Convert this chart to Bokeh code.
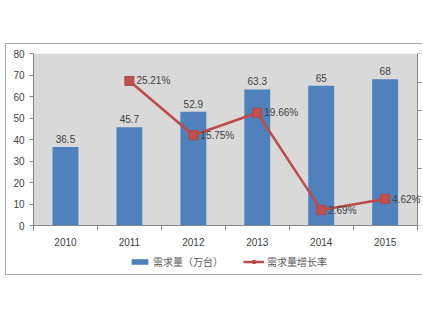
from bokeh.plotting import figure
from bokeh.layouts import column
from bokeh.models import (Range1d, LinearAxis, FixedTicker, Legend, LegendItem,
                          LabelSet, ColumnDataSource)
from bokeh.core.properties import value
from bokeh.embed import file_html
from bokeh.resources import INLINE

years = ["2010", "2011", "2012", "2013", "2014", "2015"]
demand = [36.5, 45.7, 52.9, 63.3, 65, 68]
rate_years = ["2011", "2012", "2013", "2014", "2015"]
rate = [25.21, 15.75, 19.66, 2.69, 4.62]
left_ticks = [0, 10, 20, 30, 40, 50, 60, 70, 80]
right_ticks = [0, 5, 10, 15, 20, 25, 30]

FONT = "Liberation Sans"
CJK = "Noto Sans CJK SC"
TXT = "#404040"
AX = "#868686"
BORDER = "1px solid #a6a6a6"
BAR_C = "#4f81bd"
LINE_C = "#be4b48"
MK_FILL = "#c0504d"
MK_LINE = "#b04542"

xs = list(range(len(years)))
rx = [years.index(y) for y in rate_years]
x_lo, x_hi = -0.5, len(years) - 0.5
y_max = left_ticks[-1]

p = figure(width=417, height=208, output_backend="svg", toolbar_location=None,
           x_range=Range1d(x_lo, x_hi + 0.1), y_range=Range1d(0, y_max),
           min_border_left=27, min_border_right=0, min_border_top=9,
           min_border_bottom=27)
p.styles = {"margin-left": "5px", "margin-top": "43px",
            "border-left": BORDER, "border-top": BORDER}
p.extra_y_ranges = {"rate": Range1d(0, right_ticks[-1])}
p.background_fill_color = "white"
p.border_fill_color = "white"
p.outline_line_color = None
p.xgrid.grid_line_color = None
p.ygrid.grid_line_color = None

# plot-area background limited to the category span
p.quad(left=[x_lo], right=[x_hi], bottom=[0], top=[y_max],
       fill_color="#d9d9d9", line_color=None, level="underlay")

bars = p.vbar(x=xs, top=demand, width=0.405, fill_color=BAR_C, line_color=None)
p.text(x=xs, y=demand, text=[f"{v:g}" for v in demand], text_align="center",
       text_baseline="bottom", y_offset=-4, text_font=value(FONT),
       text_font_size="10px", text_color=TXT)

ln = p.line(rx, rate, y_range_name="rate", line_color=LINE_C, line_width=2.5)
mk = p.scatter(rx, rate, y_range_name="rate", marker="square", size=9,
               fill_color=MK_FILL, line_color=MK_LINE)
rsrc = ColumnDataSource(dict(x=rx, y=rate, t=[f"{v:.2f}%" for v in rate]))
p.add_layout(LabelSet(x="x", y="y", text="t", source=rsrc, y_range_name="rate",
                      x_offset=7, text_baseline="middle", text_font=value(FONT),
                      text_font_size="10px", text_color=TXT))

xa = p.xaxis[0]
xa.bounds = (x_lo, x_hi)
xa.ticker = FixedTicker(ticks=xs, minor_ticks=[i - 0.5 for i in range(len(years) + 1)])
xa.major_label_overrides = {i: y for i, y in enumerate(years)}
xa.major_tick_line_color = None
xa.minor_tick_out = 5
xa.minor_tick_in = 0
xa.minor_tick_line_color = AX
xa.axis_line_color = AX
xa.major_label_standoff = 6
xa.major_label_text_font = FONT
xa.major_label_text_font_size = "10px"
xa.major_label_text_color = TXT

ya = p.yaxis[0]
ya.ticker = FixedTicker(ticks=left_ticks, minor_ticks=[])
ya.major_tick_out = 4
ya.major_tick_in = 0
ya.major_tick_line_color = AX
ya.axis_line_color = AX
ya.major_label_text_font = FONT
ya.major_label_text_font_size = "10px"
ya.major_label_text_color = TXT
ya.major_label_standoff = 5

ra = LinearAxis(y_range_name="rate", fixed_location=x_hi,
                ticker=FixedTicker(ticks=right_ticks, minor_ticks=[]))
ra.major_label_overrides = {t: "" for t in right_ticks}
ra.major_label_standoff = 0
ra.major_tick_out = 4
ra.major_tick_in = 0
ra.major_tick_line_color = AX
ra.axis_line_color = AX
p.add_layout(ra, "right")

# legend strip below the chart (its view window lies outside the data, so only
# the legend glyphs are drawn)
p2 = figure(width=417, height=24, output_backend="svg", toolbar_location=None,
            x_axis_type=None, y_axis_type=None, x_range=Range1d(-3, -2),
            y_range=Range1d(0, 1), min_border=0)
p2.styles = {"margin-left": "5px", "border-left": BORDER, "border-bottom": BORDER}
p2.outline_line_color = None
p2.background_fill_color = "white"
p2.border_fill_color = "white"
lb = p2.vbar(x=xs, top=demand, width=0.4, fill_color=BAR_C, line_color=None)
ll = p2.line(rx, rate, line_color=LINE_C, line_width=2.5)
lm = p2.scatter(rx, rate, marker="square", size=8, fill_color=MK_FILL,
                line_color=MK_LINE)
legend = Legend(items=[LegendItem(label="需求量（万台）", renderers=[lb]),
                       LegendItem(label="需求量增长率", renderers=[ll, lm])],
                orientation="horizontal", location=(96, 6),
                background_fill_alpha=0, border_line_color=None,
                label_text_font=CJK, label_text_font_size="10px",
                label_text_color="#595959", glyph_width=21, glyph_height=7,
                spacing=20, padding=0, margin=0, label_standoff=3)
p2.add_layout(legend)

layout = column(p, p2, spacing=0)
open("out.html", "w").write(file_html(layout, INLINE))
